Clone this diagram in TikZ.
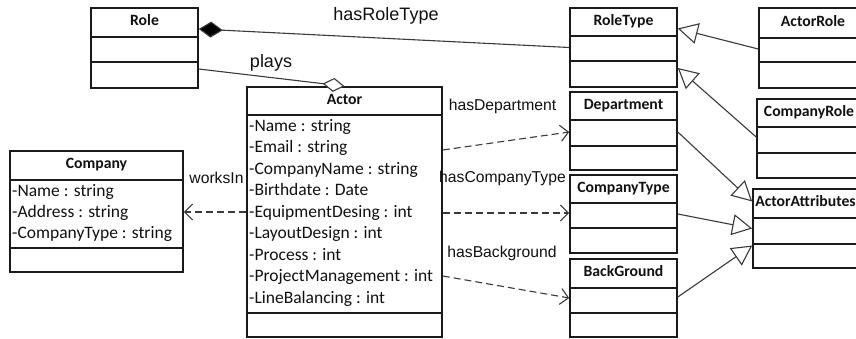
\documentclass[tikz,border=0pt]{standalone}
\usepackage{fontspec}
\setmainfont{Carlito}
\newfontfamily\labelfont{Liberation Sans}
\usetikzlibrary{arrows.meta,fit}
\definecolor{boxcol}{HTML}{1A1A1A}
\definecolor{linecol}{HTML}{3A3A3A}
\definecolor{txtcol}{HTML}{111111}
\tikzset{
  classbox/.style={draw=boxcol, line width=1.6pt, inner sep=0pt},
  classdiv/.style={draw=boxcol, line width=1.6pt},
  classtitle/.style={font=\fontsize{15.7}{18}\selectfont\bfseries, text height=0.66em, text depth=0pt, inner sep=0pt, text=txtcol},
  attr/.style={font=\fontsize{17.5}{21}\selectfont, anchor=west, text height=0.64em, text depth=0pt, inner sep=0pt, text=txtcol},
  biglabel/.style={font=\labelfont\fontsize{18}{20}\selectfont, text height=0.72em, text depth=0pt, inner sep=0pt, text=txtcol},
  smalllabel/.style={font=\labelfont\fontsize{15.7}{18}\selectfont, text height=0.72em, text depth=0pt, inner sep=0pt, text=txtcol},
  conn/.style={draw=linecol, line width=1.1pt},
  dep/.style={conn, dash pattern=on 7pt off 4pt, -{Straight Barb[length=8pt,width=16pt]}},
  gen/.style={conn, -{Triangle[open, length=20pt, width=21pt, fill=white]}},
  comp/.style={conn, {Diamond[length=24pt,width=16pt,fill=black]}-},
  aggr/.style={conn, -{Diamond[open,length=22pt,width=14pt,fill=white]}},
}
\newcommand\umlclass[8]{%
  \node[classbox, fit={(#2,#3) (#4,#5)}] (#1) {};
  \draw[classdiv] (#2,#6) -- (#4,#6) (#2,#7) -- (#4,#7);
  \node[classtitle] (#1-title) at ({(#2+#4)/2},{(#3+#6)/2}) {#8};
}
\begin{document}
\begin{tikzpicture}[x=1pt,y=-1pt]
\useasboundingbox (0,0) rectangle (856,338);
\fill[white] (0,0) rectangle (856,338);
\clip (0,0) rectangle (856,338);

\umlclass{Role}{91}{8}{198}{88}{37}{62}{Role}
\umlclass{RoleType}{570}{8}{677}{87}{36}{61}{RoleType}
\umlclass{ActorRole}{759}{8}{867}{88}{38}{62}{ActorRole}
\umlclass{Department}{570}{92}{677}{170}{120}{146}{Department}
\umlclass{CompanyRole}{757}{99}{861}{178}{127}{153}{CompanyRole}
\umlclass{CompanyType}{570}{175}{677}{253}{203}{228}{CompanyType}
\umlclass{BackGround}{570}{259}{677}{337}{288}{313}{BackGround}
\umlclass{ActorAttributes}{753}{189}{858}{268}{218}{244}{ActorAttributes}
\umlclass{Actor}{247}{87}{442}{337}{115}{313}{Actor}
\umlclass{Company}{10}{151}{183}{272}{180}{248}{Company}

\foreach \t [count=\i from 0] in {-Name : string, -Email : string, -CompanyName : string, -Birthdate : Date, -EquipmentDesing : int, -LayoutDesign : int, -Process : int, -ProjectManagement : int, -LineBalancing : int}
  \node[attr] (actor-attr-\i) at (249,{128+21.5*\i}) {\t};
\foreach \t [count=\i from 0] in {-Name : string, -Address : string, -CompanyType : string}
  \node[attr] (company-attr-\i) at (12,{193+21*\i}) {\t};

% connectors
\draw[comp] ([yshift=19pt]Role.east) -- (RoleType.west);
\draw[aggr] ([yshift=-21pt]Role.east) -- (Actor.north);
\draw[dep] (Actor.west) -- (Actor.west -| Company.east);
\draw[dep] ([yshift=62pt]Actor.east) -- ([yshift=-1pt]Department.west);
\draw[dep] ([yshift=-1pt]Actor.east) -- ([yshift=-1pt]Actor.east -| CompanyType.west);
\draw[dep] ([yshift=-64pt]Actor.east) -- (BackGround.west);
\draw[gen] ([yshift=-1pt]ActorRole.west) -- ([yshift=19pt]RoleType.east);
\draw[gen] ([yshift=1.5pt]CompanyRole.west) -- ([yshift=-20.5pt]RoleType.east);
\draw[gen] ([yshift=-1pt]Department.east) -- ([yshift=27pt]ActorAttributes.west);
\draw[gen] (CompanyType.east) -- (ActorAttributes.west);
\draw[gen] ([yshift=1pt]BackGround.east) -- ([yshift=-17pt]ActorAttributes.west);

% labels
\node[biglabel] (lbl-hasRoleType) at (386,16.5) {hasRoleType};
\node[biglabel] (lbl-plays) at (271,64) {plays};
\node[smalllabel] (lbl-hasDepartment) at (502.5,106.5) {hasDepartment};
\node[smalllabel] (lbl-hasCompanyType) at (502.5,179) {hasCompanyType};
\node[smalllabel] (lbl-hasBackground) at (502,253.5) {hasBackground};
\node[smalllabel] (lbl-worksIn) at (216.5,179.5) {worksIn};
\end{tikzpicture}
\end{document}
